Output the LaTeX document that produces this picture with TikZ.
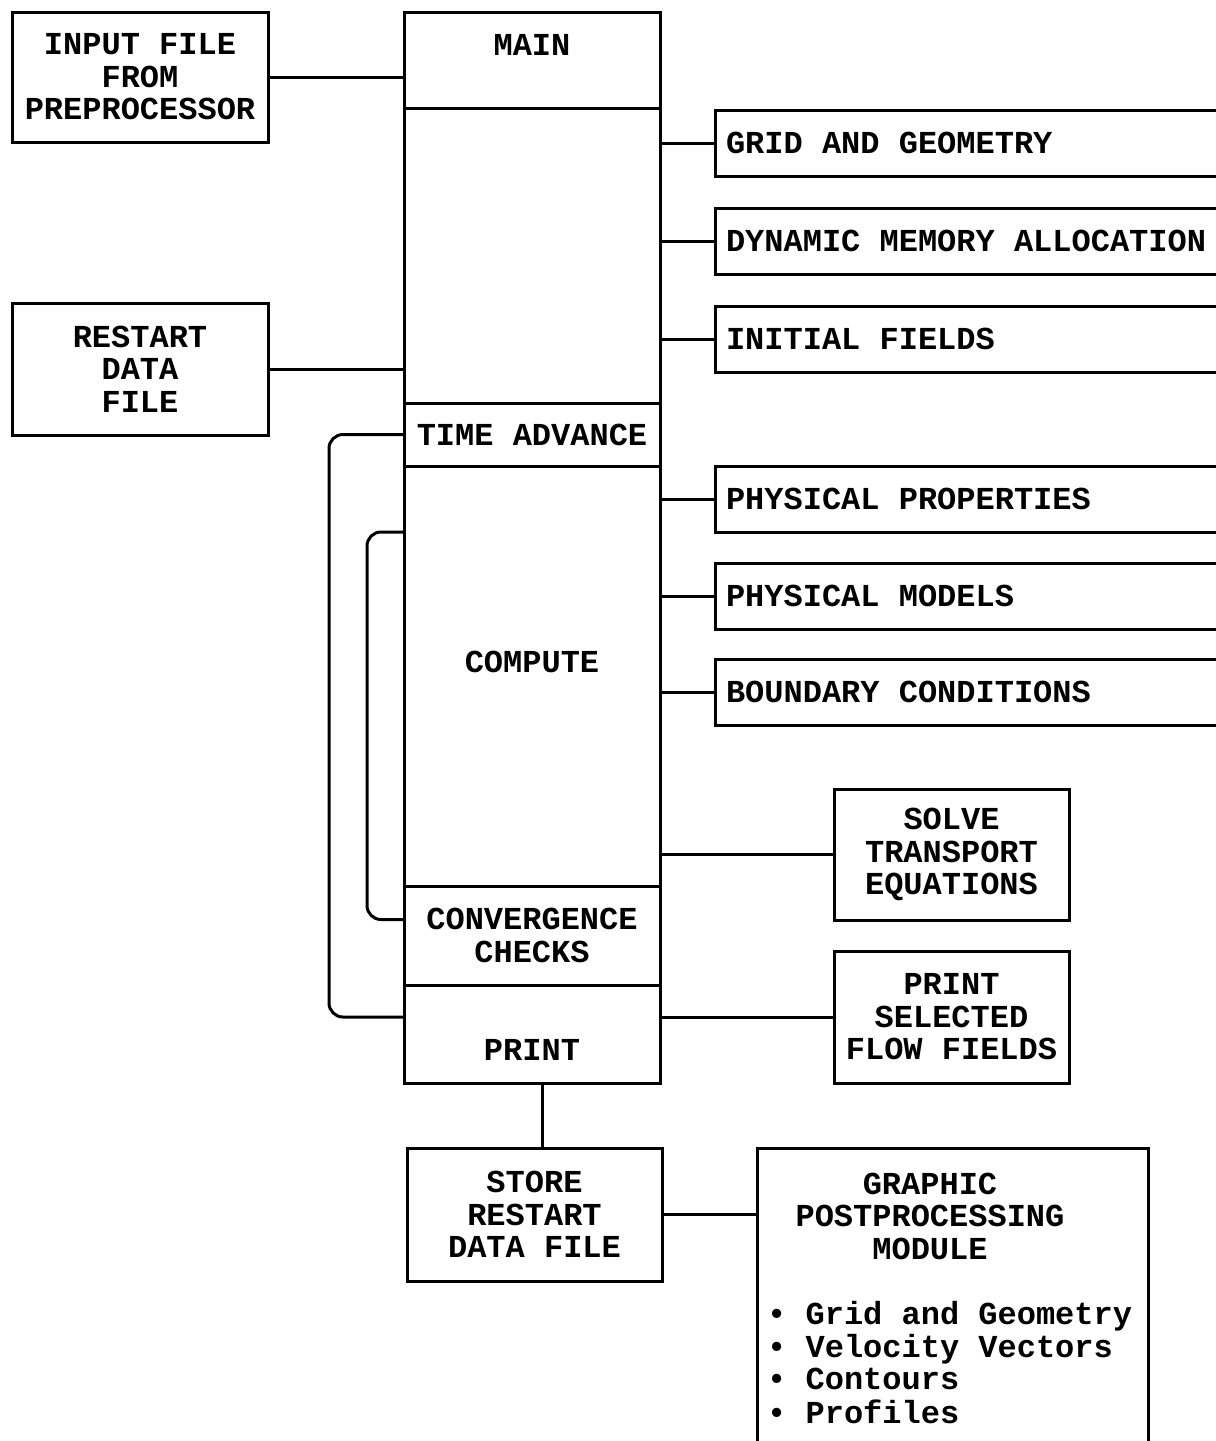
\documentclass[tikz,border=0pt]{standalone}
\usepackage{fontspec}
\usepackage{tikz}
\usetikzlibrary{calc}
\usetikzlibrary{positioning}
\newfontfamily\mono{Liberation Mono}
\newcommand{\txt}{\mono\bfseries\fontsize{32}{32.5}\selectfont}
\newcommand{\rtext}[1]{\makebox[508pt][l]{#1}}
\tikzset{
  box/.style={draw, line width=3pt, outer sep=0pt, inner sep=0pt, align=center, font=\txt},
  sect/.style={box, minimum width=256pt},
  rbox/.style={box, minimum width=530pt, minimum height=66pt},
  wire/.style={line width=3pt},
  backline/.style={wire, rounded corners=14pt}
}

\begin{document}
\begin{tikzpicture}[x=1pt,y=-1pt]
        \useasboundingbox (0,0) rectangle (1216,1441);
        \clip (0,0) rectangle (1216,1441);
        % main column
        \node[sect, minimum height=96pt, anchor=north] (main) at (532,12) {};
        \node[sect, minimum height=295pt, below=0pt of main] (setup) {};
        \node[sect, minimum height=63pt, below=0pt of setup] (tadv) {TIME ADVANCE};
        \node[sect, minimum height=420pt, below=0pt of tadv] (compute) {};
        \node[sect, minimum height=99pt, below=0pt of compute] (conv) {CONVERGENCE\\CHECKS};
        \node[sect, minimum height=98pt, below=0pt of conv] (print) {};
        \node[font=\txt] (maintxt) at ([yshift=-33pt]main.north) {MAIN};
        \node[font=\txt] (comptxt) at ([yshift=14pt]compute.center) {COMPUTE};
        \node[font=\txt] (printtxt) at ([yshift=-16pt]print.center) {PRINT};
        % inputs
        \node[box, minimum width=256pt, minimum height=130pt] (input) at (140,77) {INPUT FILE\\FROM\\PREPROCESSOR};
        \node[box, minimum width=256pt, minimum height=132pt, below=161pt of input] (restart) {RESTART\\DATA\\FILE};
        % modules
        \node[rbox, anchor=west] (grid) at (715,143) {\rtext{GRID AND GEOMETRY}};
        \node[rbox, below=32pt of grid] (dynmem) {\rtext{DYNAMIC MEMORY ALLOCATION}};
        \node[rbox, below=32pt of dynmem] (initf) {\rtext{INITIAL FIELDS}};
        \node[rbox, below=94pt of initf] (props) {\rtext{PHYSICAL PROPERTIES}};
        \node[rbox, below=31pt of props] (models) {\rtext{PHYSICAL MODELS}};
        \node[rbox, below=30pt of models] (bcs) {\rtext{BOUNDARY CONDITIONS}};
        \node[box, minimum width=235pt, minimum height=131pt] (solve) at (951.5,854.5) {SOLVE\\TRANSPORT\\EQUATIONS};
        \node[box, minimum width=235pt, minimum height=132pt, below=31pt of solve] (psel) {PRINT\\SELECTED\\FLOW FIELDS};
        % output
        \node[box, minimum width=255pt, minimum height=133pt] (store) at (534.5,1214.5) {STORE\\RESTART\\DATA FILE};
        \node[box, minimum width=391pt, minimum height=330pt, anchor=north west] (graph) at (757,1148) {};
        \node[font=\txt, align=center] (graphtitle) at (930,1216) {GRAPHIC\\POSTPROCESSING\\MODULE};
        \node[font=\txt, anchor=north west, inner sep=0pt] (graphlist) at (767,1301)
          {\begin{tabular}{@{}l@{}}• Grid and Geometry\\• Velocity Vectors\\• Contours\\• Profiles\end{tabular}};
        % connections
        \draw[wire] (input.east) -- (input.east -| main.west);
        \draw[wire] (restart.east) -- (restart.east -| setup.west);
        \foreach \n in {grid,dynmem,initf} \draw[wire] (\n.west -| setup.east) -- (\n.west);
        \foreach \n in {props,models,bcs,solve} \draw[wire] (\n.west -| compute.east) -- (\n.west);
        \draw[wire] (psel.west -| print.east) -- (psel.west);
        \draw[wire] ([xshift=10pt]print.south) -- ([xshift=10pt]print.south |- store.north);
        \draw[wire] (store.east) -- (store.east -| graph.west);
        \draw[backline] (tadv.west) -- ++(-75pt,0pt) |- (psel.west -| print.west);
        \draw[backline] ([yshift=-66pt]compute.north west) -- ++(-37pt,0pt) |- ([yshift=16pt]conv.west);
\end{tikzpicture}
\end{document}
